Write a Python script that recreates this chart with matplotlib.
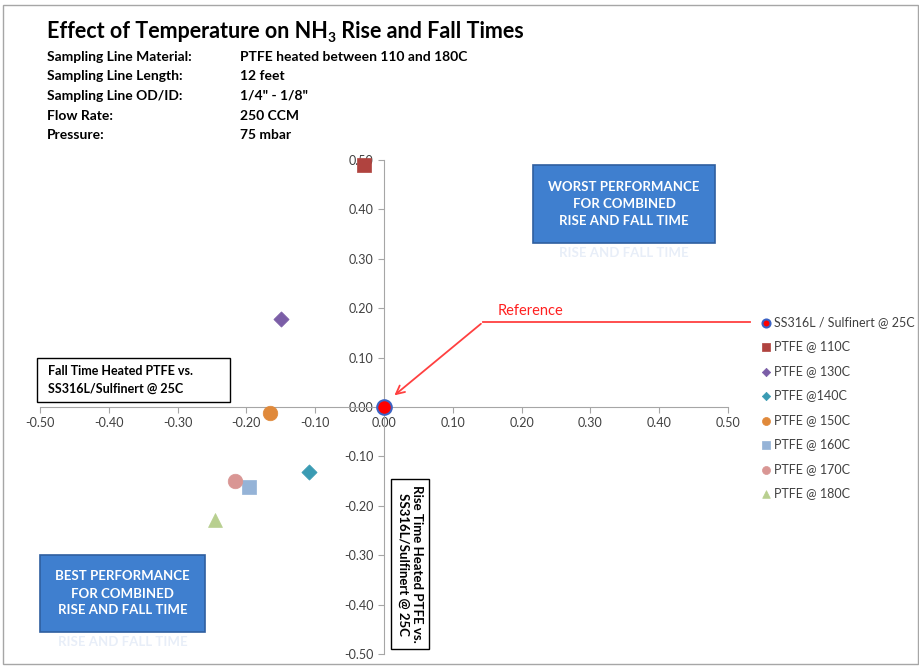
import matplotlib
matplotlib.use("Agg")
import matplotlib.pyplot as plt
from matplotlib.patches import FancyBboxPatch, Rectangle
from matplotlib.ticker import MultipleLocator, FormatStrFormatter

plt.rcParams['font.family'] = ['Lato', 'DejaVu Sans']

# data (x = fall time diff, y = rise time diff)
series = ["SS316L / Sulfinert @ 25C", "PTFE @ 110C", "PTFE @ 130C", "PTFE @140C",
          "PTFE @ 150C", "PTFE @ 160C", "PTFE @ 170C", "PTFE @ 180C"]
x_vals = [0.0, -0.029, -0.150, -0.109, -0.166, -0.196, -0.217, -0.246]
y_vals = [0.0, 0.490, 0.178, -0.132, -0.012, -0.162, -0.150, -0.229]
colors = ["#ff0000", "#b0433f", "#7b5ea7", "#3a9bb3", "#e0893a", "#95b3d7", "#d99694", "#b8cf8f"]
markers = ["o", "s", "D", "D", "o", "s", "o", "^"]
sizes = [110, 110, 60, 60, 110, 110, 110, 100]

info_labels = ["Sampling Line Material:", "Sampling Line Length:", "Sampling Line OD/ID:",
               "Flow Rate:", "Pressure:"]
info_values = ["PTFE heated between 110 and 180C", "12 feet", '1/4" - 1/8"', "250 CCM", "75 mbar"]

W, H = 920, 666
fig = plt.figure(figsize=(9.2, 6.66), dpi=100)
renderer = fig.canvas.get_renderer()

def fx(px):
    return px / W

def fy(py):
    return 1 - py / H

# outer frame
fig.patches.append(Rectangle((fx(3), fy(664)), fx(915), fy(5) - fy(664), transform=fig.transFigure,
                             fill=False, edgecolor="#a6a6a6", linewidth=1))

ax = fig.add_axes([fx(40), fy(654), fx(688), fy(160) - fy(654)])
ax.set_xlim(-0.5, 0.5)
ax.set_ylim(-0.5, 0.5)
for s in ["top", "right"]:
    ax.spines[s].set_visible(False)
ax.spines["left"].set_position("zero")
ax.spines["bottom"].set_position("zero")
ax.spines["left"].set_color("#a6a6a6")
ax.spines["bottom"].set_color("#a6a6a6")
ax.xaxis.set_major_locator(MultipleLocator(0.1))
ax.yaxis.set_major_locator(MultipleLocator(0.1))
ax.xaxis.set_major_formatter(FormatStrFormatter("%.2f"))
ax.yaxis.set_major_formatter(FormatStrFormatter("%.2f"))
ax.tick_params(axis="both", colors="#a6a6a6", labelcolor="#404040", labelsize=9, length=4)
ax.patch.set_alpha(0)

for i in range(len(series)):
    edge = "#3b62c4" if i == 0 else colors[i]
    ax.scatter(x_vals[i], y_vals[i], s=sizes[i], marker=markers[i], color=colors[i],
               edgecolors=edge, linewidths=1.5 if i == 0 else 0.5, label=series[i],
               zorder=5 if i == 0 else 4, clip_on=False)

leg = fig.legend(loc="upper left", bbox_to_anchor=(fx(755), fy(311)), frameon=False,
                 fontsize=9, labelspacing=1.0, handletextpad=0.1, markerscale=0.55,
                 handlelength=1.0, borderaxespad=0)
for t in leg.get_texts():
    t.set_color("#404040")

# reference arrow
ax.plot([0.532, 0.144], [0.172, 0.172], color="#ff4040", lw=1.3, clip_on=False)
ax.annotate("", xy=(0.012, 0.02), xytext=(0.144, 0.172),
            arrowprops=dict(arrowstyle="->,head_length=0.6,head_width=0.3", color="#ff4040", lw=1.3))
ax.text(0.213, 0.195, "Reference", color="#ff2020", fontsize=10.5, ha="center", va="center")

# title (built in pieces so the subscript stays bold)
t1 = fig.text(fx(47), fy(38), "Effect of Temperature on NH", fontsize=15.5, fontweight="bold")
bb = t1.get_window_extent(renderer)
t2 = fig.text(bb.x1 / W, fy(42), "3", fontsize=10, fontweight="bold")
bb2 = t2.get_window_extent(renderer)
fig.text(bb2.x1 / W, fy(38), " Rise and Fall Times", fontsize=15.5, fontweight="bold")

for i in range(len(info_labels)):
    y = fy(57 + i * 19.5)
    fig.text(fx(47), y, info_labels[i], fontsize=10, fontweight="bold", va="center")
    fig.text(fx(240), y, info_values[i], fontsize=10, fontweight="bold", va="center")

# axis caption boxes
fig.patches.append(Rectangle((fx(37), fy(402)), fx(193), fy(358) - fy(402), transform=fig.transFigure,
                             fc="white", ec="black", lw=1))
fig.text(fx(48), fy(380), "Fall Time Heated PTFE vs.\nSS316L/Sulfinert @ 25C", fontsize=9,
         fontweight="bold", ha="left", va="center", linespacing=1.6)
fig.text(fx(410), fy(564), "Rise Time Heated PTFE vs.\nSS316L/Sulfinert @ 25C", fontsize=9.5,
         fontweight="bold", ha="center", va="center", rotation=-90, linespacing=1.25,
         bbox=dict(boxstyle="square,pad=0.45", fc="white", ec="black", lw=1))

# blue callout boxes
def callout(x0, y0, x1, y1, text):
    fig.patches.append(FancyBboxPatch((fx(x0), fy(y1)), fx(x1 - x0), fy(y0) - fy(y1),
                                      boxstyle="square,pad=0", transform=fig.transFigure,
                                      fc="#3f7fcf", ec="#2f5f9f", lw=1.2))
    fig.text(fx((x0 + x1) / 2), fy((y0 + y1) / 2), text, color="white", fontsize=9.5,
             fontweight="bold", ha="center", va="center", linespacing=1.5)
    fig.text(fx((x0 + x1) / 2), fy(y1 + 10), text.split("\n")[-1], color="#e8eef8",
             fontsize=9.5, fontweight="bold", ha="center", va="center")

callout(533, 165, 715, 243, "WORST PERFORMANCE\nFOR COMBINED\nRISE AND FALL TIME")
callout(40, 555, 205, 632, "BEST PERFORMANCE\nFOR COMBINED\nRISE AND FALL TIME")

plt.savefig("out.png", dpi=100)
